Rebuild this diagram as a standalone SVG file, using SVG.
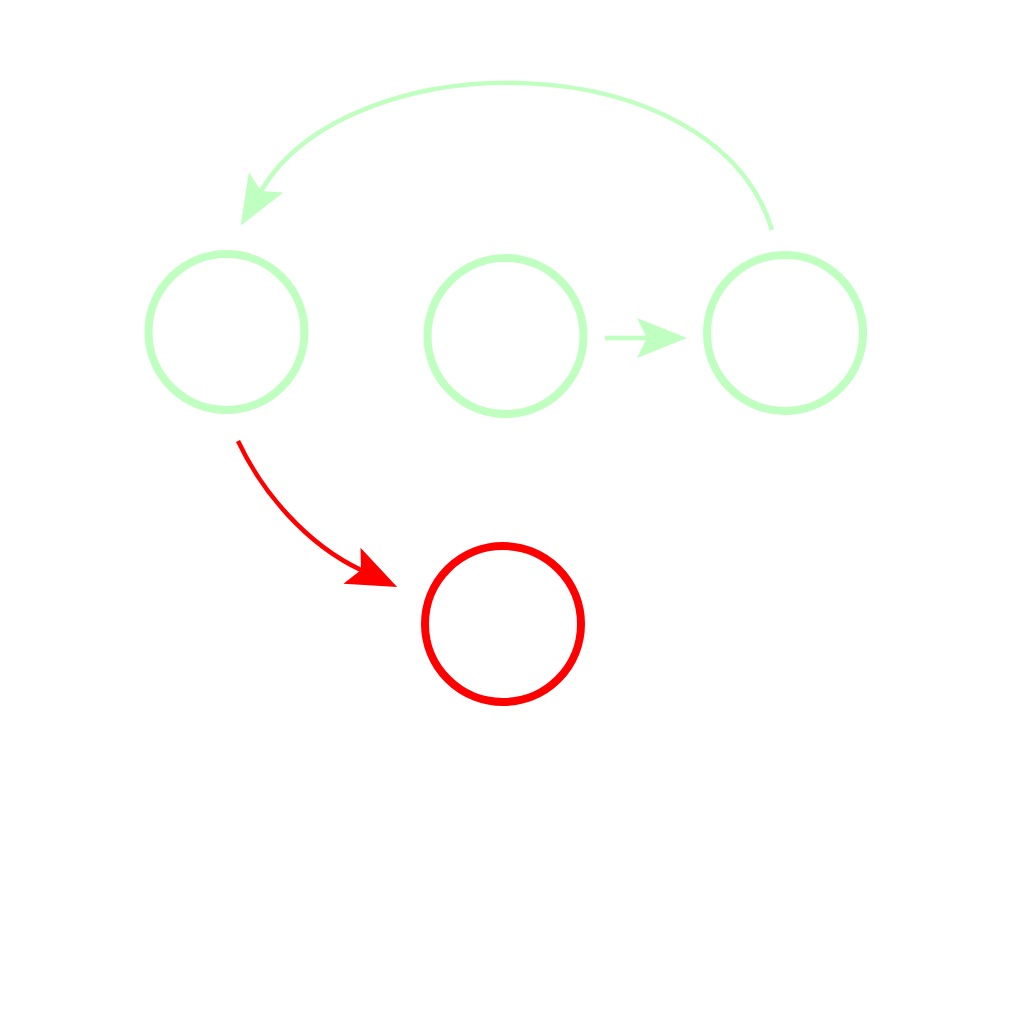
<svg xmlns="http://www.w3.org/2000/svg" width="1024" height="1024" viewBox="0 0 1024 1024">
<style>
.g{stroke:#bfffbf;fill:none}
.r{stroke:#ff0000;fill:none}
.node{stroke-width:8}
.edge{stroke-width:4.5}
</style>
<defs>
<marker id="ag" markerUnits="userSpaceOnUse" markerWidth="60" markerHeight="50" viewBox="-55 -25 60 50" refX="-40" refY="0" orient="auto"><path d="M0,0 L-50,-20 L-40,0 L-50,20 Z" fill="#bfffbf"/></marker>
<marker id="ar" markerUnits="userSpaceOnUse" markerWidth="60" markerHeight="50" viewBox="-55 -25 60 50" refX="-40" refY="0" orient="auto"><path d="M0,0 L-50,-20 L-40,0 L-50,20 Z" fill="#ff0000"/></marker>
</defs>
<rect width="1024" height="1024" fill="#ffffff"/>
<g id="connectors">
<path class="g edge" d="M605,338 L647,338" marker-end="url(#ag)"/>
<path class="g edge" d="M772,230 C715,42 350,40 261,191" marker-end="url(#ag)"/>
<path class="r edge" d="M238,441 C262,492 306,544 361,570" marker-end="url(#ar)"/>
</g>
<g id="n1"><circle class="g node" cx="226.5" cy="332" r="78"/></g>
<g id="n2"><circle class="g node" cx="505.5" cy="336" r="78"/></g>
<g id="n3"><circle class="g node" cx="785" cy="333" r="78"/></g>
<g id="n4"><circle class="r node" cx="503" cy="624" r="78"/></g>
</svg>
